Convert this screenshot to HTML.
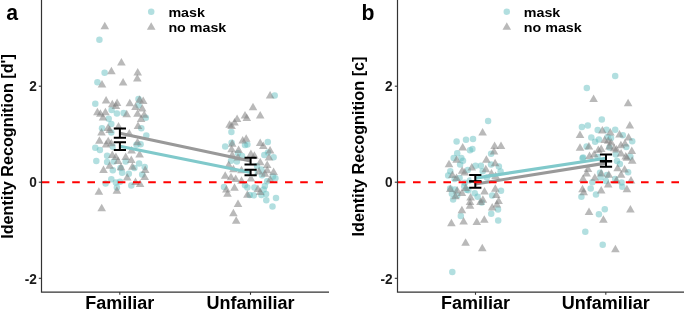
<!DOCTYPE html>
<html><head><meta charset="utf-8"><style>
html,body{margin:0;padding:0;background:#fff;}
svg{display:block;will-change:transform;}
text{font-family:"Liberation Sans",sans-serif;font-weight:bold;fill:#000;}
.tk{font-size:15.2px;fill:#1a1a1a;}
.xl{font-size:18px;}
.yl{font-size:16.2px;}
.lg{font-size:12.7px;}
.pl{font-size:21.2px;}
</style></head><body>
<svg width="685" height="311" viewBox="0 0 685 311">
<g fill="#66c0c2" fill-opacity="0.5">
<circle cx="99.4" cy="39.7" r="3.25"/>
<circle cx="104.6" cy="72.8" r="3.25"/>
<circle cx="97.4" cy="82.3" r="3.25"/>
<circle cx="95.3" cy="103.8" r="3.25"/>
<circle cx="111.6" cy="110" r="3.25"/>
<circle cx="116.9" cy="113.6" r="3.25"/>
<circle cx="123.6" cy="113.1" r="3.25"/>
<circle cx="108.7" cy="118.7" r="3.25"/>
<circle cx="111.3" cy="123.9" r="3.25"/>
<circle cx="138.6" cy="105.3" r="3.25"/>
<circle cx="145.8" cy="117.7" r="3.25"/>
<circle cx="141.3" cy="128.3" r="3.25"/>
<circle cx="138.5" cy="99" r="3.25"/>
<circle cx="102" cy="128.2" r="3.25"/>
<circle cx="111.3" cy="132.4" r="3.25"/>
<circle cx="146.3" cy="135.4" r="3.25"/>
<circle cx="95.3" cy="147.8" r="3.25"/>
<circle cx="99.9" cy="150" r="3.25"/>
<circle cx="112.8" cy="146.8" r="3.25"/>
<circle cx="136.5" cy="144.7" r="3.25"/>
<circle cx="140.6" cy="144.2" r="3.25"/>
<circle cx="96.3" cy="160.9" r="3.25"/>
<circle cx="107.1" cy="155.8" r="3.25"/>
<circle cx="107.1" cy="162" r="3.25"/>
<circle cx="113.8" cy="161.4" r="3.25"/>
<circle cx="125.7" cy="161.4" r="3.25"/>
<circle cx="139.1" cy="163.5" r="3.25"/>
<circle cx="112.8" cy="170.2" r="3.25"/>
<circle cx="120.5" cy="168.1" r="3.25"/>
<circle cx="122.1" cy="172.8" r="3.25"/>
<circle cx="134.4" cy="168.1" r="3.25"/>
<circle cx="128.8" cy="173.8" r="3.25"/>
<circle cx="144.7" cy="167.1" r="3.25"/>
<circle cx="142.2" cy="174.5" r="3.25"/>
<circle cx="111.3" cy="179.3" r="3.25"/>
<circle cx="105.6" cy="183.4" r="3.25"/>
<circle cx="115.9" cy="182.4" r="3.25"/>
<circle cx="120" cy="181.8" r="3.25"/>
<circle cx="131.3" cy="185.4" r="3.25"/>
<circle cx="116.9" cy="187.5" r="3.25"/>
<circle cx="274.7" cy="95.6" r="3.25"/>
<circle cx="231.4" cy="132" r="3.25"/>
<circle cx="231.6" cy="142.7" r="3.25"/>
<circle cx="267.8" cy="142.1" r="3.25"/>
<circle cx="247.4" cy="144.5" r="3.25"/>
<circle cx="225.2" cy="146.5" r="3.25"/>
<circle cx="245" cy="145" r="3.25"/>
<circle cx="238" cy="153.2" r="3.25"/>
<circle cx="264.3" cy="154.9" r="3.25"/>
<circle cx="273.6" cy="157.3" r="3.25"/>
<circle cx="231" cy="160.8" r="3.25"/>
<circle cx="236.9" cy="161.4" r="3.25"/>
<circle cx="261.4" cy="169.5" r="3.25"/>
<circle cx="254.4" cy="173" r="3.25"/>
<circle cx="224" cy="187" r="3.25"/>
<circle cx="245" cy="185.3" r="3.25"/>
<circle cx="247.4" cy="187.6" r="3.25"/>
<circle cx="254.4" cy="187.6" r="3.25"/>
<circle cx="264.9" cy="185.9" r="3.25"/>
<circle cx="267.2" cy="181.2" r="3.25"/>
<circle cx="263.7" cy="189.4" r="3.25"/>
<circle cx="266.1" cy="194" r="3.25"/>
<circle cx="253.8" cy="195.3" r="3.25"/>
<circle cx="261.4" cy="195" r="3.25"/>
<circle cx="266.3" cy="200.3" r="3.25"/>
<circle cx="276" cy="198" r="3.25"/>
<circle cx="275.4" cy="178.3" r="3.25"/>
<circle cx="262" cy="175.3" r="3.25"/>
<circle cx="273" cy="176.5" r="3.25"/>
<circle cx="249.7" cy="194.9" r="3.25"/>
<circle cx="272.5" cy="206.6" r="3.25"/>
<circle cx="268" cy="152.5" r="3.25"/>
<circle cx="242" cy="156" r="3.25"/>
<circle cx="257" cy="166" r="3.25"/>
</g>
<g fill="#7f7f7f" fill-opacity="0.55">
<path d="M104.8 21.8L109.1 29.3L100.5 29.3Z"/>
<path d="M121.4 58.0L125.7 65.5L117.1 65.5Z"/>
<path d="M111.4 66.7L115.7 74.2L107.1 74.2Z"/>
<path d="M137.7 68.0L142.0 75.5L133.4 75.5Z"/>
<path d="M137.3 73.9L141.6 81.4L133.0 81.4Z"/>
<path d="M102.0 80.0L106.3 87.5L97.7 87.5Z"/>
<path d="M123.1 78.0L127.4 85.5L118.8 85.5Z"/>
<path d="M106.1 95.9L110.4 103.4L101.8 103.4Z"/>
<path d="M112.3 99.8L116.6 107.3L108.0 107.3Z"/>
<path d="M117.1 98.4L121.4 105.9L112.8 105.9Z"/>
<path d="M115.9 101.5L120.2 109.0L111.6 109.0Z"/>
<path d="M129.8 98.7L134.1 106.2L125.5 106.2Z"/>
<path d="M139.6 95.3L143.9 102.8L135.3 102.8Z"/>
<path d="M143.2 96.4L147.5 103.9L138.9 103.9Z"/>
<path d="M135.5 102.6L139.8 110.1L131.2 110.1Z"/>
<path d="M142.2 104.1L146.5 111.6L137.9 111.6Z"/>
<path d="M97.4 107.7L101.7 115.2L93.1 115.2Z"/>
<path d="M100.4 109.2L104.7 116.7L96.1 116.7Z"/>
<path d="M105.4 107.7L109.7 115.2L101.1 115.2Z"/>
<path d="M103.0 112.9L107.3 120.4L98.7 120.4Z"/>
<path d="M126.7 109.8L131.0 117.3L122.4 117.3Z"/>
<path d="M137.5 109.2L141.8 116.7L133.2 116.7Z"/>
<path d="M144.2 110.3L148.5 117.8L139.9 117.8Z"/>
<path d="M141.1 114.4L145.4 121.9L136.8 121.9Z"/>
<path d="M118.5 122.0L122.8 129.5L114.2 129.5Z"/>
<path d="M108.0 123.5L112.3 131.0L103.7 131.0Z"/>
<path d="M138.0 121.5L142.3 129.0L133.7 129.0Z"/>
<path d="M109.7 125.5L114.0 133.0L105.4 133.0Z"/>
<path d="M101.5 128.0L105.8 135.5L97.2 135.5Z"/>
<path d="M129.3 129.1L133.6 136.6L125.0 136.6Z"/>
<path d="M99.4 136.3L103.7 143.8L95.1 143.8Z"/>
<path d="M108.2 136.8L112.5 144.3L103.9 144.3Z"/>
<path d="M106.1 139.9L110.4 147.4L101.8 147.4Z"/>
<path d="M111.3 138.8L115.6 146.3L107.0 146.3Z"/>
<path d="M137.5 137.8L141.8 145.3L133.2 145.3Z"/>
<path d="M112.3 150.4L116.6 157.9L108.0 157.9Z"/>
<path d="M115.9 152.5L120.2 160.0L111.6 160.0Z"/>
<path d="M118.0 156.6L122.3 164.1L113.7 164.1Z"/>
<path d="M125.7 152.5L130.0 160.0L121.4 160.0Z"/>
<path d="M131.3 155.6L135.6 163.1L127.0 163.1Z"/>
<path d="M131.6 146.0L135.9 153.5L127.3 153.5Z"/>
<path d="M139.6 149.9L143.9 157.4L135.3 157.4Z"/>
<path d="M109.7 161.2L114.0 168.7L105.4 168.7Z"/>
<path d="M103.5 165.4L107.8 172.9L99.2 172.9Z"/>
<path d="M121.0 162.8L125.3 170.3L116.7 170.3Z"/>
<path d="M132.4 162.3L136.7 169.8L128.1 169.8Z"/>
<path d="M145.2 165.4L149.5 172.9L140.9 172.9Z"/>
<path d="M127.2 173.1L131.5 180.6L122.9 180.6Z"/>
<path d="M144.7 172.6L149.0 180.1L140.4 180.1Z"/>
<path d="M135.5 177.5L139.8 185.0L131.2 185.0Z"/>
<path d="M140.1 179.6L144.4 187.1L135.8 187.1Z"/>
<path d="M98.9 187.3L103.2 194.8L94.6 194.8Z"/>
<path d="M116.9 186.3L121.2 193.8L112.6 193.8Z"/>
<path d="M101.7 203.7L106.0 211.2L97.4 211.2Z"/>
<path d="M270.1 91.0L274.4 98.5L265.8 98.5Z"/>
<path d="M253.0 102.7L257.3 110.2L248.7 110.2Z"/>
<path d="M245.0 110.9L249.3 118.4L240.7 118.4Z"/>
<path d="M260.2 110.9L264.5 118.4L255.9 118.4Z"/>
<path d="M246.8 113.4L251.1 120.9L242.5 120.9Z"/>
<path d="M237.1 114.5L241.4 122.0L232.8 122.0Z"/>
<path d="M234.5 118.0L238.8 125.5L230.2 125.5Z"/>
<path d="M229.6 120.3L233.9 127.8L225.3 127.8Z"/>
<path d="M231.6 121.5L235.9 129.0L227.3 129.0Z"/>
<path d="M246.2 134.3L250.5 141.8L241.9 141.8Z"/>
<path d="M242.7 136.1L247.0 143.6L238.4 143.6Z"/>
<path d="M232.2 139.3L236.5 146.8L227.9 146.8Z"/>
<path d="M260.2 138.5L264.5 146.0L255.9 146.0Z"/>
<path d="M263.3 141.5L267.6 149.0L259.0 149.0Z"/>
<path d="M231.6 144.8L235.9 152.3L227.3 152.3Z"/>
<path d="M238.6 145.4L242.9 152.9L234.3 152.9Z"/>
<path d="M270.1 146.0L274.4 153.5L265.8 153.5Z"/>
<path d="M250.9 149.5L255.2 157.0L246.6 157.0Z"/>
<path d="M254.4 151.2L258.7 158.7L250.1 158.7Z"/>
<path d="M232.2 150.6L236.5 158.1L227.9 158.1Z"/>
<path d="M238.0 153.0L242.3 160.5L233.7 160.5Z"/>
<path d="M269.0 153.0L273.3 160.5L264.7 160.5Z"/>
<path d="M228.7 160.6L233.0 168.1L224.4 168.1Z"/>
<path d="M260.2 157.7L264.5 165.2L255.9 165.2Z"/>
<path d="M267.2 160.6L271.5 168.1L262.9 168.1Z"/>
<path d="M233.4 164.7L237.7 172.2L229.1 172.2Z"/>
<path d="M241.5 165.8L245.8 173.3L237.2 173.3Z"/>
<path d="M267.2 165.8L271.5 173.3L262.9 173.3Z"/>
<path d="M273.6 167.5L277.9 175.0L269.3 175.0Z"/>
<path d="M225.2 171.3L229.5 178.8L220.9 178.8Z"/>
<path d="M259.0 167.0L263.3 174.5L254.7 174.5Z"/>
<path d="M231.0 172.8L235.3 180.3L226.7 180.3Z"/>
<path d="M235.7 174.6L240.0 182.1L231.4 182.1Z"/>
<path d="M241.5 176.3L245.8 183.8L237.2 183.8Z"/>
<path d="M250.9 174.0L255.2 181.5L246.6 181.5Z"/>
<path d="M264.9 169.3L269.2 176.8L260.6 176.8Z"/>
<path d="M270.1 175.1L274.4 182.6L265.8 182.6Z"/>
<path d="M226.4 185.1L230.7 192.6L222.1 192.6Z"/>
<path d="M234.5 183.3L238.8 190.8L230.2 190.8Z"/>
<path d="M227.5 189.2L231.8 196.7L223.2 196.7Z"/>
<path d="M257.9 184.5L262.2 192.0L253.6 192.0Z"/>
<path d="M260.2 187.4L264.5 194.9L255.9 194.9Z"/>
<path d="M247.4 190.3L251.7 197.8L243.1 197.8Z"/>
<path d="M238.0 199.5L242.3 207.0L233.7 207.0Z"/>
<path d="M233.4 208.7L237.7 216.2L229.1 216.2Z"/>
<path d="M236.2 216.3L240.5 223.8L231.9 223.8Z"/>
</g>
<g fill="#fff"><circle cx="119.8" cy="133.2" r="4.3"/><circle cx="250.5" cy="161.1" r="4.3"/><circle cx="119.8" cy="146.2" r="4.3"/><circle cx="250.5" cy="172.5" r="4.3"/></g>
<line x1="119.8" y1="133.2" x2="250.5" y2="161.1" stroke="#999999" stroke-width="3.1"/>
<line x1="119.8" y1="146.2" x2="250.5" y2="172.5" stroke="#80c9cb" stroke-width="3.1"/>
<path d="M113.80000000000001 128.6H126.0M119.9 128.6V137.7M113.80000000000001 137.7H126.0" stroke="#000" stroke-width="2" fill="none"/>
<path d="M113.80000000000001 142.2H126.0M119.9 142.2V150.1M113.80000000000001 150.1H126.0" stroke="#000" stroke-width="2" fill="none"/>
<path d="M244.5 157.7H256.7M250.6 157.7V164.5M244.5 164.5H256.7" stroke="#000" stroke-width="2" fill="none"/>
<path d="M244.5 169.8H256.7M250.6 169.8V175.3M244.5 175.3H256.7" stroke="#000" stroke-width="2" fill="none"/>
<line x1="41.8" y1="182.2" x2="329" y2="182.2" stroke="#ff0000" stroke-width="2.1" stroke-dasharray="7.6 7.6"/>
<path d="M41.5 0V292.1H329" stroke="#333" stroke-width="1.2" fill="none"/>
<line x1="38.8" y1="86.2" x2="41.5" y2="86.2" stroke="#333" stroke-width="1.1"/>
<line x1="38.8" y1="182.2" x2="41.5" y2="182.2" stroke="#333" stroke-width="1.1"/>
<line x1="38.8" y1="278.3" x2="41.5" y2="278.3" stroke="#333" stroke-width="1.1"/>
<line x1="119.8" y1="292.1" x2="119.8" y2="294.8" stroke="#333" stroke-width="1.1"/>
<line x1="250.5" y1="292.1" x2="250.5" y2="294.8" stroke="#333" stroke-width="1.1"/>
<text transform="translate(36.8 91.4) scale(0.9 1)" text-anchor="end" class="tk">2</text>
<text transform="translate(36.8 187.39999999999998) scale(0.9 1)" text-anchor="end" class="tk">0</text>
<text transform="translate(36.8 283.5) scale(0.9 1)" text-anchor="end" class="tk">-2</text>
<text x="119.8" y="309.4" text-anchor="middle" class="xl">Familiar</text>
<text x="250.5" y="309.4" text-anchor="middle" class="xl">Unfamiliar</text>
<text x="12.6" y="146.5" text-anchor="middle" class="yl" transform="rotate(-90 12.6 146.5)">Identity Recognition [d']</text>
<circle cx="151.2" cy="11.7" r="3.25" fill="#66c0c2" fill-opacity="0.5"/>
<path d="M151.2 22.3L155.5 29.8L146.9 29.8Z" fill="#7f7f7f" fill-opacity="0.55"/>
<text transform="translate(168.4 16.8) scale(1.125 1)" class="lg">mask</text>
<text transform="translate(168.4 32.1) scale(1.125 1)" class="lg">no mask</text>
<g fill="#66c0c2" fill-opacity="0.5">
<circle cx="488.1" cy="121.1" r="3.25"/>
<circle cx="456.6" cy="141.5" r="3.25"/>
<circle cx="466" cy="139.8" r="3.25"/>
<circle cx="473" cy="138.9" r="3.25"/>
<circle cx="470" cy="150.3" r="3.25"/>
<circle cx="472.4" cy="149.1" r="3.25"/>
<circle cx="457.2" cy="153.2" r="3.25"/>
<circle cx="453.7" cy="157.9" r="3.25"/>
<circle cx="461.3" cy="157.9" r="3.25"/>
<circle cx="463" cy="160.8" r="3.25"/>
<circle cx="491.1" cy="153.8" r="3.25"/>
<circle cx="460.1" cy="164.6" r="3.25"/>
<circle cx="475.5" cy="165.8" r="3.25"/>
<circle cx="480.9" cy="165.8" r="3.25"/>
<circle cx="491" cy="164.6" r="3.25"/>
<circle cx="498.9" cy="166.4" r="3.25"/>
<circle cx="450.3" cy="171.3" r="3.25"/>
<circle cx="448.2" cy="175.4" r="3.25"/>
<circle cx="467.8" cy="170" r="3.25"/>
<circle cx="482.7" cy="171.3" r="3.25"/>
<circle cx="500.6" cy="171.5" r="3.25"/>
<circle cx="459.6" cy="178" r="3.25"/>
<circle cx="464.7" cy="182.7" r="3.25"/>
<circle cx="469.9" cy="180.6" r="3.25"/>
<circle cx="486.9" cy="177.4" r="3.25"/>
<circle cx="454.6" cy="179.1" r="3.25"/>
<circle cx="450.2" cy="188.5" r="3.25"/>
<circle cx="454.9" cy="189.4" r="3.25"/>
<circle cx="451.9" cy="193.8" r="3.25"/>
<circle cx="457.2" cy="195.5" r="3.25"/>
<circle cx="453.1" cy="199.6" r="3.25"/>
<circle cx="466.5" cy="189.7" r="3.25"/>
<circle cx="464.2" cy="186.2" r="3.25"/>
<circle cx="468.3" cy="190.3" r="3.25"/>
<circle cx="474.7" cy="193.2" r="3.25"/>
<circle cx="477.6" cy="196.7" r="3.25"/>
<circle cx="481.7" cy="202.5" r="3.25"/>
<circle cx="501" cy="190.8" r="3.25"/>
<circle cx="492.2" cy="195.5" r="3.25"/>
<circle cx="498" cy="209.5" r="3.25"/>
<circle cx="491.2" cy="213.7" r="3.25"/>
<circle cx="460.8" cy="216" r="3.25"/>
<circle cx="498.2" cy="220.5" r="3.25"/>
<circle cx="452.3" cy="271.9" r="3.25"/>
<circle cx="615.2" cy="76.1" r="3.25"/>
<circle cx="586.8" cy="88.1" r="3.25"/>
<circle cx="601.8" cy="119.5" r="3.25"/>
<circle cx="587.8" cy="125.4" r="3.25"/>
<circle cx="581.9" cy="127.1" r="3.25"/>
<circle cx="597.7" cy="130" r="3.25"/>
<circle cx="606.5" cy="129.7" r="3.25"/>
<circle cx="615.2" cy="129.7" r="3.25"/>
<circle cx="591.3" cy="137.6" r="3.25"/>
<circle cx="598.9" cy="139.4" r="3.25"/>
<circle cx="595.1" cy="141.7" r="3.25"/>
<circle cx="607.6" cy="137" r="3.25"/>
<circle cx="622.8" cy="135.3" r="3.25"/>
<circle cx="632.2" cy="141.2" r="3.25"/>
<circle cx="586.6" cy="146.4" r="3.25"/>
<circle cx="626.3" cy="147" r="3.25"/>
<circle cx="609.4" cy="147.5" r="3.25"/>
<circle cx="611" cy="138" r="3.25"/>
<circle cx="615.8" cy="154.5" r="3.25"/>
<circle cx="630.4" cy="156.8" r="3.25"/>
<circle cx="583.1" cy="157.5" r="3.25"/>
<circle cx="597.7" cy="156.9" r="3.25"/>
<circle cx="582.5" cy="158.2" r="3.25"/>
<circle cx="617" cy="161.1" r="3.25"/>
<circle cx="619.9" cy="164" r="3.25"/>
<circle cx="628.1" cy="172.2" r="3.25"/>
<circle cx="600" cy="172.8" r="3.25"/>
<circle cx="600.6" cy="177.4" r="3.25"/>
<circle cx="607" cy="175.1" r="3.25"/>
<circle cx="615.2" cy="178.9" r="3.25"/>
<circle cx="592.4" cy="182.2" r="3.25"/>
<circle cx="605.9" cy="181" r="3.25"/>
<circle cx="621.6" cy="182.5" r="3.25"/>
<circle cx="590.7" cy="188.5" r="3.25"/>
<circle cx="581.4" cy="196.7" r="3.25"/>
<circle cx="596" cy="194.4" r="3.25"/>
<circle cx="622.2" cy="186.8" r="3.25"/>
<circle cx="604.8" cy="209.2" r="3.25"/>
<circle cx="598.9" cy="214.2" r="3.25"/>
<circle cx="585.3" cy="231.8" r="3.25"/>
<circle cx="602.7" cy="244.8" r="3.25"/>
</g>
<g fill="#7f7f7f" fill-opacity="0.55">
<path d="M482.6 127.9L486.9 135.4L478.3 135.4Z"/>
<path d="M494.6 141.6L498.9 149.1L490.3 149.1Z"/>
<path d="M501.0 141.6L505.3 149.1L496.7 149.1Z"/>
<path d="M462.7 143.1L467.0 150.6L458.4 150.6Z"/>
<path d="M494.0 147.1L498.3 154.6L489.7 154.6Z"/>
<path d="M456.6 155.3L460.9 162.8L452.3 162.8Z"/>
<path d="M449.0 159.8L453.3 167.3L444.7 167.3Z"/>
<path d="M486.4 155.3L490.7 162.8L482.1 162.8Z"/>
<path d="M495.1 158.8L499.4 166.3L490.8 166.3Z"/>
<path d="M471.8 162.9L476.1 170.4L467.5 170.4Z"/>
<path d="M485.8 164.8L490.1 172.3L481.5 172.3Z"/>
<path d="M462.2 166.2L466.5 173.7L457.9 173.7Z"/>
<path d="M464.7 168.0L469.0 175.5L460.4 175.5Z"/>
<path d="M452.4 170.5L456.7 178.0L448.1 178.0Z"/>
<path d="M456.5 173.5L460.8 181.0L452.2 181.0Z"/>
<path d="M491.5 169.1L495.8 176.6L487.2 176.6Z"/>
<path d="M495.6 171.5L499.9 179.0L491.3 179.0Z"/>
<path d="M450.3 184.6L454.6 192.1L446.0 192.1Z"/>
<path d="M457.2 186.0L461.5 193.5L452.9 193.5Z"/>
<path d="M461.9 188.5L466.2 196.0L457.6 196.0Z"/>
<path d="M465.7 183.5L470.0 191.0L461.4 191.0Z"/>
<path d="M455.4 191.8L459.7 199.3L451.1 199.3Z"/>
<path d="M470.6 193.0L474.9 200.5L466.3 200.5Z"/>
<path d="M470.0 197.6L474.3 205.1L465.7 205.1Z"/>
<path d="M470.0 201.2L474.3 208.7L465.7 208.7Z"/>
<path d="M484.5 187.1L488.8 194.6L480.2 194.6Z"/>
<path d="M482.9 195.3L487.2 202.8L478.6 202.8Z"/>
<path d="M480.5 197.6L484.8 205.1L476.2 205.1Z"/>
<path d="M495.3 184.3L499.6 191.8L491.0 191.8Z"/>
<path d="M496.3 190.6L500.6 198.1L492.0 198.1Z"/>
<path d="M498.6 196.5L502.9 204.0L494.3 204.0Z"/>
<path d="M496.9 200.0L501.2 207.5L492.6 207.5Z"/>
<path d="M492.2 202.9L496.5 210.4L487.9 210.4Z"/>
<path d="M461.9 205.8L466.2 213.3L457.6 213.3Z"/>
<path d="M451.4 218.8L455.7 226.3L447.1 226.3Z"/>
<path d="M463.6 217.1L467.9 224.6L459.3 224.6Z"/>
<path d="M476.8 217.6L481.1 225.1L472.5 225.1Z"/>
<path d="M484.3 215.3L488.6 222.8L480.0 222.8Z"/>
<path d="M465.6 238.3L469.9 245.8L461.3 245.8Z"/>
<path d="M482.3 243.8L486.6 251.3L478.0 251.3Z"/>
<path d="M593.6 94.6L597.9 102.1L589.3 102.1Z"/>
<path d="M628.1 98.8L632.4 106.3L623.8 106.3Z"/>
<path d="M629.8 121.1L634.1 128.6L625.5 128.6Z"/>
<path d="M602.4 126.0L606.7 133.5L598.1 133.5Z"/>
<path d="M610.3 128.1L614.6 135.6L606.0 135.6Z"/>
<path d="M619.5 129.9L623.8 137.4L615.2 137.4Z"/>
<path d="M580.0 130.4L584.3 137.9L575.7 137.9Z"/>
<path d="M628.6 133.0L632.9 140.5L624.3 140.5Z"/>
<path d="M604.7 135.6L609.0 143.1L600.4 143.1Z"/>
<path d="M608.2 136.2L612.5 143.7L603.9 143.7Z"/>
<path d="M611.1 138.0L615.4 145.5L606.8 145.5Z"/>
<path d="M624.9 139.0L629.2 146.5L620.6 146.5Z"/>
<path d="M620.9 140.8L625.2 148.3L616.6 148.3Z"/>
<path d="M588.9 142.1L593.2 149.6L584.6 149.6Z"/>
<path d="M580.0 143.2L584.3 150.7L575.7 150.7Z"/>
<path d="M601.2 144.4L605.5 151.9L596.9 151.9Z"/>
<path d="M598.3 145.6L602.6 153.1L594.0 153.1Z"/>
<path d="M614.1 143.8L618.4 151.3L609.8 151.3Z"/>
<path d="M616.4 145.0L620.7 152.5L612.1 152.5Z"/>
<path d="M631.8 146.5L636.1 154.0L627.5 154.0Z"/>
<path d="M594.2 149.7L598.5 157.2L589.9 157.2Z"/>
<path d="M589.5 151.4L593.8 158.9L585.2 158.9Z"/>
<path d="M621.1 149.1L625.4 156.6L616.8 156.6Z"/>
<path d="M625.7 152.0L630.0 159.5L621.4 159.5Z"/>
<path d="M609.4 142.0L613.7 149.5L605.1 149.5Z"/>
<path d="M626.9 153.3L631.2 160.8L622.6 160.8Z"/>
<path d="M632.2 156.2L636.5 163.7L627.9 163.7Z"/>
<path d="M586.6 169.1L590.9 176.6L582.3 176.6Z"/>
<path d="M588.0 164.5L592.3 172.0L583.7 172.0Z"/>
<path d="M583.1 174.3L587.4 181.8L578.8 181.8Z"/>
<path d="M594.8 173.2L599.1 180.7L590.5 180.7Z"/>
<path d="M601.2 169.1L605.5 176.6L596.9 176.6Z"/>
<path d="M608.8 170.2L613.1 177.7L604.5 177.7Z"/>
<path d="M617.6 163.8L621.9 171.3L613.3 171.3Z"/>
<path d="M624.6 165.0L628.9 172.5L620.3 172.5Z"/>
<path d="M621.1 170.2L625.4 177.7L616.8 177.7Z"/>
<path d="M631.0 176.1L635.3 183.6L626.7 183.6Z"/>
<path d="M616.4 176.1L620.7 183.6L612.1 183.6Z"/>
<path d="M582.5 184.8L586.8 192.3L578.2 192.3Z"/>
<path d="M583.7 187.7L588.0 195.2L579.4 195.2Z"/>
<path d="M601.2 186.0L605.5 193.5L596.9 193.5Z"/>
<path d="M608.2 180.1L612.5 187.6L603.9 187.6Z"/>
<path d="M626.9 184.8L631.2 192.3L622.6 192.3Z"/>
<path d="M589.0 207.5L593.3 215.0L584.7 215.0Z"/>
<path d="M630.4 204.9L634.7 212.4L626.1 212.4Z"/>
<path d="M603.4 215.2L607.7 222.7L599.1 222.7Z"/>
<path d="M615.4 244.7L619.7 252.2L611.1 252.2Z"/>
</g>
<g fill="#fff"><circle cx="475.5" cy="184.0" r="4.3"/><circle cx="605.8" cy="163.1" r="4.3"/><circle cx="475.5" cy="178.1" r="4.3"/><circle cx="605.8" cy="158.2" r="4.3"/></g>
<line x1="475.5" y1="184.0" x2="605.8" y2="163.1" stroke="#999999" stroke-width="3.1"/>
<line x1="475.5" y1="178.1" x2="605.8" y2="158.2" stroke="#80c9cb" stroke-width="3.1"/>
<path d="M469.2 175.1H481.40000000000003M475.3 175.1V181.3M469.2 181.3H481.40000000000003" stroke="#000" stroke-width="2" fill="none"/>
<path d="M469.2 181.6H481.40000000000003M475.3 181.6V187.7M469.2 187.7H481.40000000000003" stroke="#000" stroke-width="2" fill="none"/>
<path d="M599.9 154.5H612.1M606 154.5V161.0M599.9 161.0H612.1" stroke="#000" stroke-width="2" fill="none"/>
<path d="M599.9 161.6H612.1M606 161.6V166.8M599.9 166.8H612.1" stroke="#000" stroke-width="2" fill="none"/>
<line x1="397.8" y1="182.2" x2="684" y2="182.2" stroke="#ff0000" stroke-width="2.1" stroke-dasharray="7.6 7.6"/>
<path d="M397.5 0V292.1H684" stroke="#333" stroke-width="1.2" fill="none"/>
<line x1="394.8" y1="86.2" x2="397.5" y2="86.2" stroke="#333" stroke-width="1.1"/>
<line x1="394.8" y1="182.2" x2="397.5" y2="182.2" stroke="#333" stroke-width="1.1"/>
<line x1="394.8" y1="278.3" x2="397.5" y2="278.3" stroke="#333" stroke-width="1.1"/>
<line x1="475.5" y1="292.1" x2="475.5" y2="294.8" stroke="#333" stroke-width="1.1"/>
<line x1="605.8" y1="292.1" x2="605.8" y2="294.8" stroke="#333" stroke-width="1.1"/>
<text transform="translate(392.7 91.4) scale(0.9 1)" text-anchor="end" class="tk">2</text>
<text transform="translate(392.7 187.39999999999998) scale(0.9 1)" text-anchor="end" class="tk">0</text>
<text transform="translate(392.7 283.5) scale(0.9 1)" text-anchor="end" class="tk">-2</text>
<text x="475.5" y="309.4" text-anchor="middle" class="xl">Familiar</text>
<text x="605.8" y="309.4" text-anchor="middle" class="xl">Unfamiliar</text>
<text x="363.9" y="146.5" text-anchor="middle" class="yl" transform="rotate(-90 363.9 146.5)">Identity Recognition [c]</text>
<circle cx="506.8" cy="11.7" r="3.25" fill="#66c0c2" fill-opacity="0.5"/>
<path d="M506.8 22.3L511.1 29.8L502.5 29.8Z" fill="#7f7f7f" fill-opacity="0.55"/>
<text transform="translate(523.8 16.8) scale(1.125 1)" class="lg">mask</text>
<text transform="translate(523.8 32.1) scale(1.125 1)" class="lg">no mask</text>
<text x="6.2" y="20.3" class="pl">a</text>
<text x="361.6" y="20.3" class="pl">b</text>
</svg>
</body></html>
